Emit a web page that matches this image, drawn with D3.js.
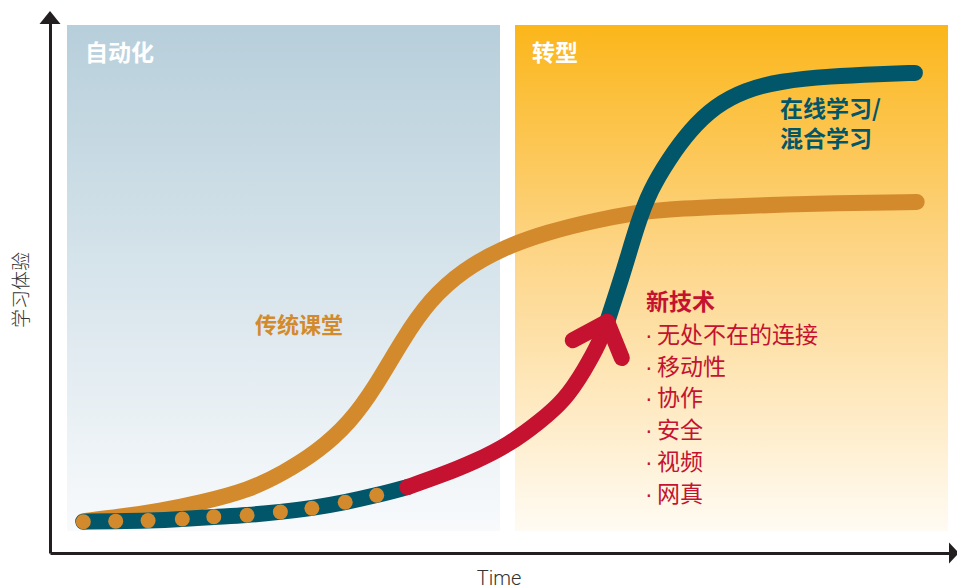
<!DOCTYPE html>
<html>
<head>
<meta charset="utf-8">
<script src="https://cdn.jsdelivr.net/npm/d3@7"></script>
<style>
  body { margin: 0; background: #fff; }
  svg { display: block; }
  text { font-family: "Noto Sans CJK SC", "Noto Sans", sans-serif; }
</style>
</head>
<body>
<div id="chart"></div>
<script>
// curve values, in time / experience units (0-100)
var classroom = [[3.7,5.9],[7.8,6.7],[12.2,7.8],[16.7,9.3],[22.2,11.7],[25.9,14.8],[29.7,18.7],[33.3,24.1],
  [36.1,30.6],[39.2,39.6],[42.2,46.9],[45.9,52.4],[50.3,56.5],[55.2,59.4],[60.8,61.7],[65.2,63.0],
  [67.8,63.6],[76.7,64.3],[87.8,64.8],[96.3,65.0]];
var onlineBase = [[3.7,5.8],[7.3,5.9],[10.9,6.0],[14.7,6.3],[18.2,6.7],[21.9,7.0],[25.6,7.6],[29.1,8.3],
  [32.8,9.4],[36.3,10.7],[39.7,12.2]];
var newTech = [[39.7,12.2],[43.3,14.3],[47.2,16.9],[51.1,20.2],[54.4,24.3],[57.2,28.3],[59.4,33.9],
  [61.1,39.1],[61.9,42.8]];
var onlineUpper = [[61.9,42.8],[63.7,51.9],[65.3,61.1],[66.7,67.2],[68.7,72.8],[71.1,78.3],[73.9,82.8],
  [77.2,85.7],[81.1,87.4],[86.7,88.3],[92.2,88.7],[96.1,88.9]];

var phases = ["自动化", "转型"];
var techTitle = "新技术";
var techItems = ["无处不在的连接", "移动性", "协作", "安全", "视频", "网真"];
var classroomLabel = "传统课堂";
var onlineLabel = ["在线学习/", "混合学习"];
var xLabel = "Time";
var yLabel = "学习体验";

var W = 957, H = 588;
var teal = "#02566a", orange = "#d38a2c", red = "#c41230";

var svg = d3.select("#chart").append("svg")
  .attr("width", W)
  .attr("height", H);

var x = d3.scaleLinear().domain([0, 100]).range([50, 950]);
var y = d3.scaleLinear().domain([0, 100]).range([553, 13]);

// background gradients for the two phases
var defs = svg.append("defs");
var g1 = defs.append("linearGradient").attr("id", "gBlue").attr("x1", 0).attr("y1", 0).attr("x2", 0).attr("y2", 1);
g1.append("stop").attr("offset", "0%").attr("stop-color", "#b7cfdb");
g1.append("stop").attr("offset", "100%").attr("stop-color", "#f8fafc");
var g2 = defs.append("linearGradient").attr("id", "gGold").attr("x1", 0).attr("y1", 0).attr("x2", 0).attr("y2", 1);
g2.append("stop").attr("offset", "0%").attr("stop-color", "#fbb61a");
g2.append("stop").attr("offset", "45%").attr("stop-color", "#fdd587");
g2.append("stop").attr("offset", "100%").attr("stop-color", "#fffbf3");

var panels = [{x: 67, w: 433, fill: "url(#gBlue)"}, {x: 515, w: 433, fill: "url(#gGold)"}];
svg.selectAll(".panel")
  .data(panels)
  .enter().append("rect")
    .attr("class", "panel")
    .attr("x", function(d) { return d.x; })
    .attr("y", 25)
    .attr("width", function(d) { return d.w; })
    .attr("height", 506)
    .attr("fill", function(d) { return d.fill; });

svg.selectAll(".phase")
  .data(phases)
  .enter().append("text")
    .attr("class", "phase")
    .attr("x", function(d, i) { return panels[i].x + (i == 0 ? 18 : 17); })
    .attr("y", 61)
    .attr("fill", "#fff")
    .attr("font-size", 23)
    .attr("font-weight", "bold")
    .text(function(d) { return d; });

// axes
svg.append("g")
  .attr("transform", "translate(0,553)")
  .call(d3.axisBottom(x).tickValues([]).tickSizeOuter(0))
  .select(".domain").attr("stroke", "#231f20").attr("stroke-width", 3);
svg.append("g")
  .attr("transform", "translate(50,0)")
  .call(d3.axisLeft(y.copy().range([553, 20])).tickValues([]).tickSizeOuter(0))
  .select(".domain").attr("stroke", "#231f20").attr("stroke-width", 3);
svg.append("path").attr("d", "M50,11L39.5,24L60.5,24Z").attr("fill", "#231f20");
svg.append("path").attr("d", "M959,553L949,542.5L949,563.5Z").attr("fill", "#231f20");

svg.append("text")
  .attr("x", 499).attr("y", 585)
  .attr("text-anchor", "middle")
  .attr("font-size", 20)
  .attr("fill", "#333")
  .style("font-family", "Roboto, 'Liberation Sans', sans-serif")
  .style("font-weight", 300)
  .text(xLabel);
svg.append("text")
  .attr("transform", "translate(28,290) rotate(-90)")
  .attr("text-anchor", "middle")
  .attr("font-size", 19)
  .attr("fill", "#333")
  .style("font-weight", 300)
  .text(yLabel);

var line = d3.line()
  .curve(d3.curveBasis)
  .x(function(d) { return x(d[0]); })
  .y(function(d) { return y(d[1]); });

function drawLine(data, color) {
  return svg.append("path")
    .datum(data)
    .attr("d", line)
    .attr("fill", "none")
    .attr("stroke", color)
    .attr("stroke-width", 16)
    .attr("stroke-linecap", "round")
    .attr("stroke-linejoin", "round");
}

drawLine(classroom, orange);
drawLine(onlineBase, teal);

svg.selectAll(".dot")
  .data(onlineBase.slice(0, -1))
  .enter().append("circle")
    .attr("class", "dot")
    .attr("cx", function(d) { return x(d[0]); })
    .attr("cy", function(d) { return y(d[1]); })
    .attr("r", 7.5)
    .attr("fill", orange);

drawLine(onlineUpper, teal);
drawLine(newTech, red);

// arrow head at the end of the red curve
var tip = newTech[newTech.length - 1], prev = newTech[newTech.length - 2];
var tx = x(tip[0]), ty = y(tip[1]);
var ang = Math.atan2(y(prev[1]) - ty, x(prev[0]) - tx);
var wing = 39, spread = 42 * Math.PI / 180;
svg.append("path")
  .attr("d", "M" + (tx + wing * Math.cos(ang + spread)) + "," + (ty + wing * Math.sin(ang + spread)) +
    "L" + tx + "," + ty +
    "L" + (tx + wing * Math.cos(ang - spread)) + "," + (ty + wing * Math.sin(ang - spread)))
  .attr("fill", "none")
  .attr("stroke", red)
  .attr("stroke-width", 16)
  .attr("stroke-linecap", "round")
  .attr("stroke-linejoin", "round");

// labels
svg.append("text")
  .attr("x", 255).attr("y", 333)
  .attr("fill", orange)
  .attr("font-size", 22)
  .attr("font-weight", "bold")
  .text(classroomLabel);

svg.selectAll(".online")
  .data(onlineLabel)
  .enter().append("text")
    .attr("class", "online")
    .attr("x", 780)
    .attr("y", function(d, i) { return 117 + i * 30; })
    .attr("fill", teal)
    .attr("font-size", 23)
    .attr("font-weight", "bold")
    .text(function(d) { return d; });

svg.append("text")
  .attr("x", 646).attr("y", 310)
  .attr("fill", red)
  .attr("font-size", 23)
  .attr("font-weight", "bold")
  .text(techTitle);

var items = svg.selectAll(".item")
  .data(techItems)
  .enter().append("g")
    .attr("class", "item");
items.append("text")
  .attr("x", 645)
  .attr("y", function(d, i) { return 343 + i * 31.7; })
  .attr("fill", red)
  .attr("font-size", 23)
  .style("font-family", "'Liberation Sans', sans-serif")
  .text("·");
items.append("text")
  .attr("x", 657)
  .attr("y", function(d, i) { return 343 + i * 31.7; })
  .attr("fill", red)
  .attr("font-size", 23)
  .text(function(d) { return d; });
</script>
</body>
</html>
